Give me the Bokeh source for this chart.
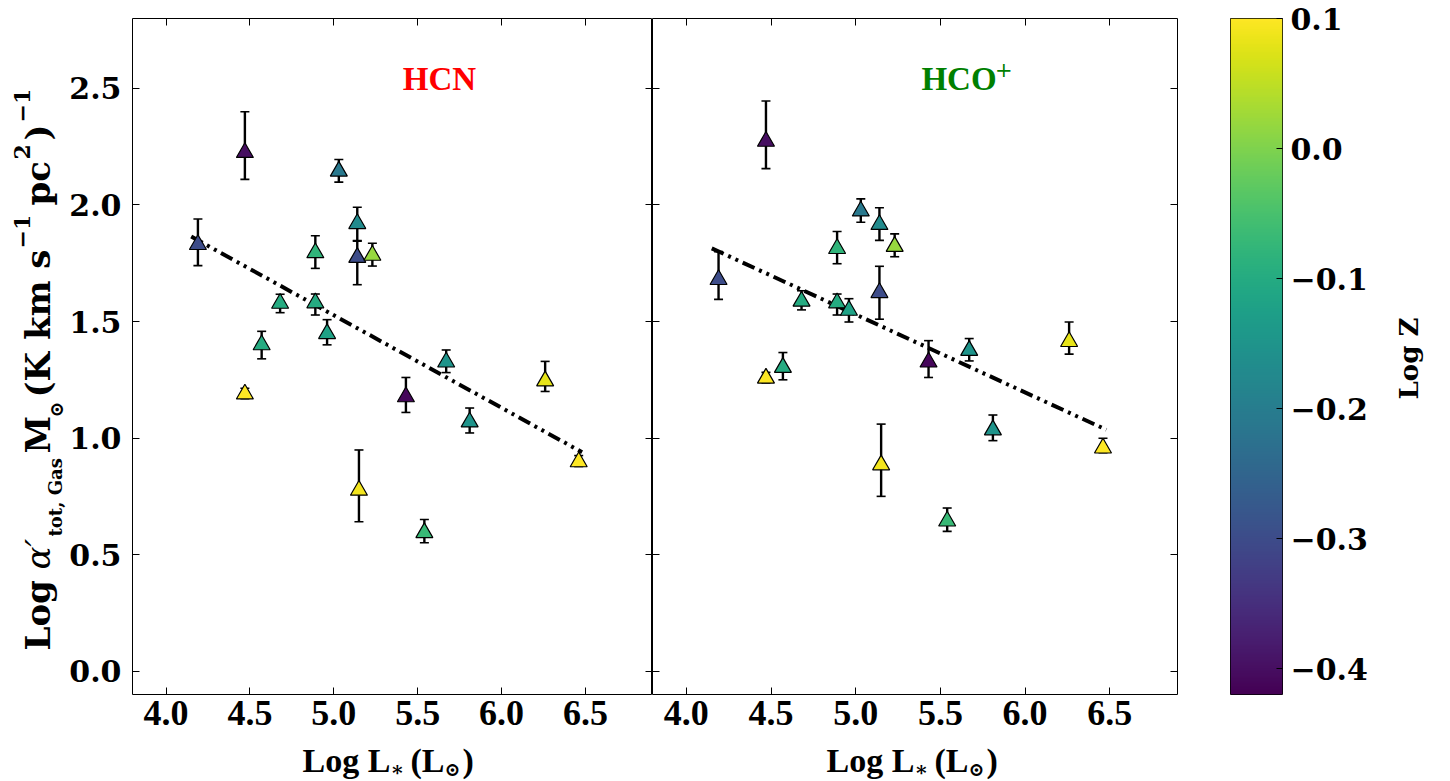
import numpy as np
from math import pi
from bokeh.plotting import figure
from bokeh.models import (ColumnDataSource, Range1d, LinearAxis, FixedTicker, Whisker, TeeHead,
                          LinearColorMapper, Label, CustomJSTickFormatter, Spacer)
from bokeh.layouts import row, column
from bokeh.palettes import Viridis256
from bokeh.embed import file_html
from bokeh.resources import INLINE
from bokeh.core.properties import value

# ---------------- data ----------------
log_lstar = [4.19, 4.47, 5.03, 5.14, 5.14, 5.23, 4.89, 4.68, 4.89, 4.96,
             4.57, 5.67, 6.26, 4.47, 5.43, 5.81, 6.46, 5.15, 5.54]
log_z = [-0.30, -0.40, -0.21, -0.17, -0.30, 0.02, -0.08, -0.10, -0.10, -0.12,
         -0.10, -0.15, 0.08, 0.10, -0.41, -0.15, 0.10, 0.09, -0.07]

hcn_alpha = [1.830, 2.225, 2.145, 1.920, 1.775, 1.784, 1.795, 1.578, 1.580, 1.448,
             1.400, 1.326, 1.245, 1.189, 1.177, 1.069, 0.898, 0.776, 0.594]
hcn_err_hi = [0.110, 0.175, 0.050, 0.070, 0.070, 0.052, 0.073, 0.039, 0.038, 0.060,
              0.058, 0.052, 0.084, 0.025, 0.083, 0.060, 0.027, 0.173, 0.057]
hcn_err_lo = [0.090, 0.115, 0.047, 0.073, 0.117, 0.046, 0.067, 0.040, 0.052, 0.048,
              0.060, 0.045, 0.045, 0.020, 0.067, 0.047, 0.020, 0.135, 0.043]

hco_alpha = [1.680, 2.273, 1.974, 1.916, 1.624, 1.822, 1.813, 1.587, 1.580, 1.548,
             1.303, 1.376, 1.414, 1.257, 1.326, 1.035, 0.957, 0.885, 0.644]
hco_err_hi = [0.120, 0.173, 0.052, 0.072, 0.113, 0.054, 0.073, 0.045, 0.038, 0.050,
              0.064, 0.051, 0.084, 0.025, 0.092, 0.064, 0.042, 0.175, 0.056]
hco_err_lo = [0.085, 0.117, 0.048, 0.068, 0.114, 0.044, 0.065, 0.037, 0.052, 0.050,
              0.053, 0.045, 0.054, 0.020, 0.066, 0.046, 0.020, 0.135, 0.044]

# linear fits: (intercept, slope) and x extent
hcn_fit = (3.512, -0.397)
hco_fit = (3.200, -0.334)
fit_x = [4.15, 6.48]

x_ticks = [4.0, 4.5, 5.0, 5.5, 6.0, 6.5]
y_ticks = [0.0, 0.5, 1.0, 1.5, 2.0, 2.5]
z_ticks = [-0.4, -0.3, -0.2, -0.1, 0.0, 0.1]
z_low, z_high = -0.42, 0.10

# ---------------- styling ----------------
SERIF_B = "DejaVu Serif"
TIMES = "Liberation Serif"
TOP, BOT = 18, 48
FRAME_H = 676
H1 = TOP + FRAME_H + BOT          # 742
XL_H = 38                          # x-label strip height
FW1, FW2 = 522, 525
YL_W = 66

mapper = LinearColorMapper(palette=Viridis256, low=z_low, high=z_high)
fmt1 = "return tick.toFixed(1);"


def mk_axis(ticks, show, font=SERIF_B, size="30px", standoff=10):
    ax = LinearAxis(ticker=FixedTicker(ticks=ticks), major_tick_in=7, major_tick_out=0,
                    minor_tick_line_color=None, axis_line_color=None,
                    major_tick_line_color="black", major_tick_line_width=1)
    if show:
        ax.formatter = CustomJSTickFormatter(code=fmt1)
        ax.major_label_text_font = font
        ax.major_label_text_font_style = "bold"
        ax.major_label_text_font_size = size
        ax.major_label_text_color = "black"
        ax.major_label_standoff = standoff
    else:
        ax.formatter = CustomJSTickFormatter(code="return '';")
        ax.major_label_text_font_size = "0px"
        ax.major_label_standoff = 0
    return ax


def strip(w, h, top=0, bot=0):
    s = figure(width=w, height=h, x_range=Range1d(0, w), y_range=Range1d(0, h - top - bot),
               output_backend="svg", toolbar_location=None,
               x_axis_location=None, y_axis_location=None, min_border=0,
               min_border_left=0, min_border_right=0,
               min_border_top=top, min_border_bottom=bot)
    s.outline_line_color = None
    s.grid.visible = False
    return s


def txt(s, text, x, y, size, font=SERIF_B, style="bold", angle=0.0, align="left",
        baseline="middle", color="black"):
    s.text(x=[x], y=[y], text=[text], text_font=value(font), text_font_style=style,
           text_font_size=size, text_color=color, angle=angle, text_align=align,
           text_baseline=baseline)


def panel(alpha, hi, lo, fit, first):
    fw = FW1 if first else FW2
    p = figure(width=(64 + fw) if first else (fw + 20), height=H1,
               x_range=Range1d(3.8, 6.9), y_range=Range1d(-0.1, 2.8),
               output_backend="svg", toolbar_location=None,
               x_axis_location=None, y_axis_location=None,
               min_border_left=64 if first else 0, min_border_right=0 if first else 20,
               min_border_top=TOP, min_border_bottom=BOT)
    p.grid.visible = False
    p.outline_line_color = "black"
    p.outline_line_width = 1
    p.background_fill_color = "white"

    p.add_layout(mk_axis(x_ticks, True, font=TIMES, size="36px", standoff=6), "below")
    p.add_layout(mk_axis(x_ticks, False), "above")
    p.add_layout(mk_axis(y_ticks, first, standoff=11), "left")
    p.add_layout(mk_axis(y_ticks, False), "right")

    src = ColumnDataSource(dict(
        x=log_lstar, y=alpha, z=log_z,
        upper=[a + h for a, h in zip(alpha, hi)],
        lower=[a - l for a, l in zip(alpha, lo)],
    ))
    wh = Whisker(source=src, base="x", upper="upper", lower="lower", dimension="height",
                 line_color="black", line_width=2.4,
                 upper_head=TeeHead(size=9, line_color="black", line_width=1.6),
                 lower_head=TeeHead(size=9, line_color="black", line_width=1.6),
                 level="underlay")
    p.add_layout(wh)

    a, b = fit
    p.line(fit_x, [a + b * xv for xv in fit_x], line_color="black", line_width=4,
           line_dash="13 5 3 5 3 5")

    p.scatter("x", "y", source=src, marker="triangle", size=17,
              fill_color={"field": "z", "transform": mapper},
              line_color="black", line_width=1.2)
    return p


p1 = panel(hcn_alpha, hcn_err_hi, hcn_err_lo, hcn_fit, True)
p2 = panel(hco_alpha, hco_err_hi, hco_err_lo, hco_fit, False)

p1.add_layout(Label(x=5.63, y=2.54, text="HCN", text_color="red",
                    text_font=TIMES, text_font_style="bold", text_font_size="33px",
                    text_align="center", text_baseline="middle"))
p2.add_layout(Label(x=5.61, y=2.54, text="HCO", text_color="green",
                    text_font=TIMES, text_font_style="bold", text_font_size="33px",
                    text_align="center", text_baseline="middle"))
p2.add_layout(Label(x=5.61, y=2.54, x_offset=36, y_offset=10, text="+", text_color="green",
                    text_font=SERIF_B, text_font_style="normal", text_font_size="21px",
                    text_align="left", text_baseline="middle"))

# ---------------- y-axis label strip (frame aligned with panels) ----------------
yl = strip(YL_W, H1, TOP, BOT)
MX, SUBX, SUPX = 37, 55, 21   # glyph-centre columns: main line, subscript, superscript
R = pi / 2
txt(yl, "Log", MX, 44, "34px", angle=R)
txt(yl, "\u03b1\u2032", MX, 125, "34px", style="italic", angle=R)
txt(yl, "tot, Gas", SUBX, 158, "18px", angle=R)
txt(yl, "M", MX, 241, "34px", angle=R)
txt(yl, "\u2299", SUBX, 277, "19px", angle=R)
txt(yl, "(K km s", MX, 297, "34px", angle=R)
txt(yl, "\u22121", SUPX, 446, "22px", angle=R)
txt(yl, "pc", MX, 489, "34px", angle=R)
txt(yl, "2", SUPX, 535, "22px", angle=R)
txt(yl, ")", MX, 554, "34px", angle=R)
txt(yl, "\u22121", SUPX, 572, "22px", angle=R)

# ---------------- colorbar ----------------
p3 = figure(width=33 + 52 + 95, height=H1, x_range=Range1d(0, 1),
            y_range=Range1d(z_low, z_high), output_backend="svg", toolbar_location=None,
            x_axis_location=None, y_axis_location=None,
            min_border_left=33, min_border_right=95, min_border_top=TOP, min_border_bottom=BOT)
p3.grid.visible = False
p3.outline_line_color = "black"
grad = np.linspace(z_low, z_high, 256).reshape(-1, 1)
p3.image(image=[grad], x=0, y=z_low, dw=1, dh=z_high - z_low, color_mapper=mapper)
zax = mk_axis(z_ticks, True, standoff=8)
zax.major_tick_in = 6
zax.formatter = CustomJSTickFormatter(
    code="return (tick < -1e-9 ? '\\u2212' : '') + Math.abs(tick).toFixed(1);")
p3.add_layout(zax, "right")

zl = strip(63, H1, TOP, BOT)
txt(zl, "Log Z", 31, 336, "26px", angle=R, align="center")


# ---------------- x-axis label strips ----------------
def xlabel_strip(w, s0):
    st = strip(w, XL_H)
    y0, ys = 20, 12
    txt(st, "Log L", s0, y0, "34px", font=TIMES)
    txt(st, "\u2217", s0 + 88, ys, "20px")
    txt(st, "(L", s0 + 108, y0, "34px", font=TIMES)
    txt(st, "\u2299", s0 + 142, ys, "19px")
    txt(st, ")", s0 + 160, y0, "34px", font=TIMES)
    return st


xl1 = xlabel_strip(FW1, 172)
xl2 = xlabel_strip(FW2, 174)

layout = column(row(yl, p1, p2, p3, zl),
                row(Spacer(width=YL_W + 64, height=XL_H), xl1, xl2))
open("out.html", "w").write(file_html(layout, INLINE))
